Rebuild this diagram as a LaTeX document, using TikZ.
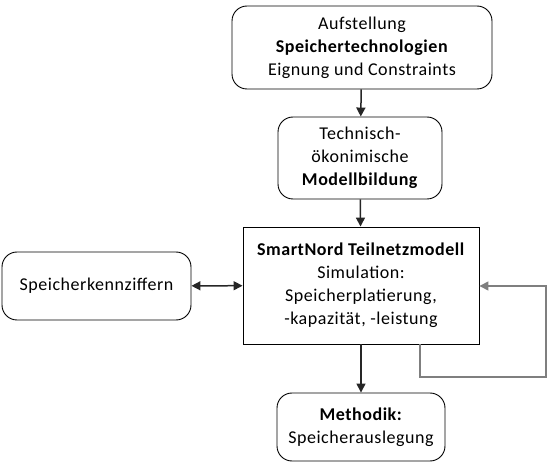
\documentclass[tikz,border=0pt]{standalone}
\usepackage{fontspec}
\setmainfont{Carlito}[LetterSpace=3]
\usepackage{xcolor}
\usetikzlibrary{arrows.meta}
\definecolor{pfeil}{HTML}{262626}
\definecolor{schleife}{HTML}{7F7F7F}
\tikzset{
  rbox/.style={draw=black,line width=0.9pt,rounded corners=15pt,align=center,inner sep=0pt},
  sbox/.style={draw=black,line width=0.9pt,align=center,inner sep=0pt},
  pf/.style={draw=pfeil,line width=1.5pt,-{Triangle[length=9pt,width=9pt]}},
}
\begin{document}
\begin{tikzpicture}[x=1pt,y=-1pt,font=\fontsize{18}{23}\selectfont]
\useasboundingbox (0,0) rectangle (550,468);
\node (auf) at (362,47.5) [rbox,minimum width=260pt,minimum height=83pt] {Aufstellung\\\textbf{Speichertechnologien}\\Eignung und Constraints};
\node (tech) at (360,158) [rbox,minimum width=164pt,minimum height=82pt] {Technisch-\\ökonimische\\\textbf{Modellbildung}};
\node (snm) at (361,285.5) [sbox,minimum width=236pt,minimum height=117pt] {\textbf{SmartNord Teilnetzmodell}\\Simulation:\\Speicherplatierung,\\-kapazität, -leistung};
\node (kenn) at (96.5,286) [rbox,minimum width=189pt,minimum height=68pt] {Speicherkennziffern};
\node (meth) at (361,427) [rbox,minimum width=168pt,minimum height=68pt] {\textbf{Methodik:}\\Speicherauslegung};
\coordinate (l1) at (420,377);
\coordinate (l2) at (546,286);
\draw[pf] (auf) -- (tech);
\draw[pf] (tech) -- (snm);
\draw[pf] (snm) -- (meth);
\draw[pf,{Triangle[length=9pt,width=9pt]}-{Triangle[length=9pt,width=9pt]}] (kenn) -- (snm);
\draw[pf,draw=schleife] (snm.south -| l1) |- (l1) -| (l2) -- (l2 -| snm.east);
\end{tikzpicture}
\end{document}
